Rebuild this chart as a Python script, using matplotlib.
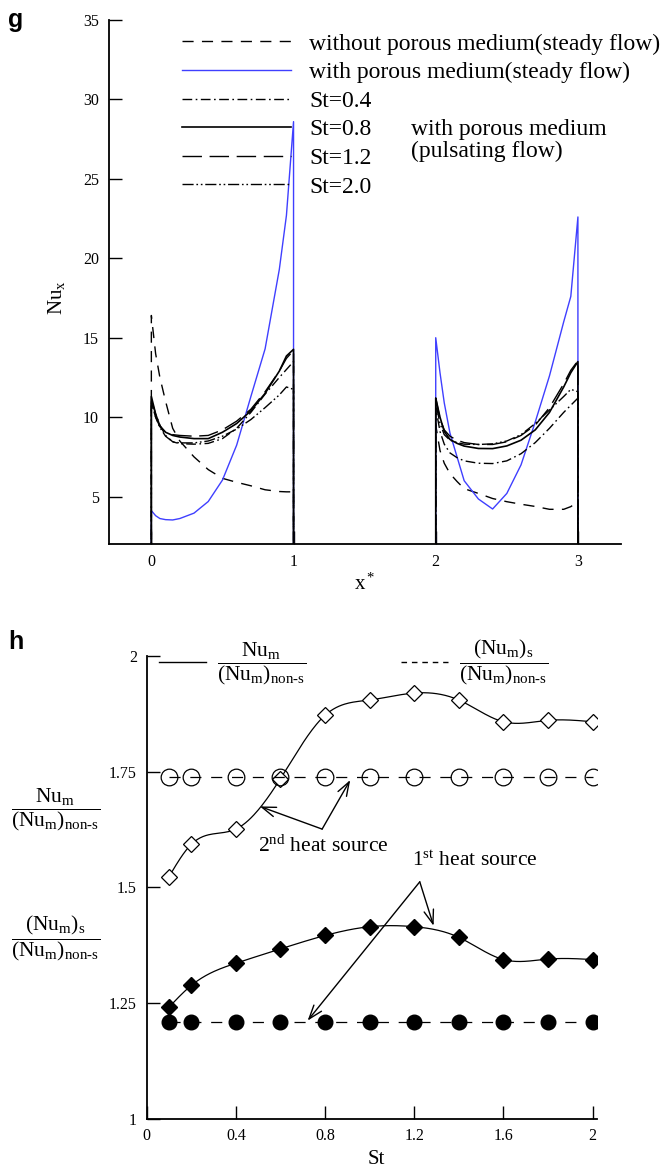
import numpy as np
import matplotlib
matplotlib.use("Agg")
import matplotlib.pyplot as plt
from matplotlib.lines import Line2D

plt.rcParams['font.family'] = ['Liberation Serif', 'DejaVu Serif']
plt.rcParams['mathtext.fontset'] = 'custom'
plt.rcParams['mathtext.rm'] = 'Liberation Serif'
plt.rcParams['mathtext.it'] = 'Liberation Serif:italic'
plt.rcParams['lines.scale_dashes'] = False

# ---- panel g: local Nusselt number on the two heat sources ----
x_src = [0, 0.03, 0.06, 0.1, 0.15, 0.2, 0.3, 0.4, 0.5, 0.6, 0.7, 0.8, 0.9, 0.95, 1.0]

plain_src1 = [16.4, 14.0, 12.5, 11.0, 9.3, 8.5, 7.5, 6.7, 6.15, 5.9, 5.68, 5.43, 5.32, 5.3, 5.3]
plain_src2 = [9.5, 7.9, 7.1, 6.45, 5.95, 5.5, 5.2, 4.88, 4.68, 4.52, 4.38, 4.2, 4.2, 4.37, 4.68]
porous_src1 = [4.12, 3.8, 3.62, 3.55, 3.53, 3.62, 3.96, 4.69, 6.04, 8.24, 11.3, 14.3, 19.3, 22.7, 28.6]
porous_src2 = [15.0, 12.8, 10.9, 9.0, 7.5, 6.0, 4.85, 4.22, 5.2, 7.0, 9.7, 12.6, 16.0, 17.6, 22.6]
st04_src1 = [11.1, 10.2, 9.5, 8.85, 8.45, 8.33, 8.3, 8.35, 8.65, 9.3, 10.3, 11.45, 12.5, 13.0, 13.5]
st04_src2 = [10.6, 9.1, 8.3, 7.75, 7.45, 7.25, 7.1, 7.08, 7.25, 7.7, 8.4, 9.3, 10.3, 10.75, 11.2]
st08_src1 = [11.3, 10.2, 9.45, 9.05, 8.85, 8.75, 8.65, 8.65, 9.05, 9.6, 10.4, 11.5, 12.9, 13.85, 14.27]
st08_src2 = [11.2, 10.0, 9.1, 8.6, 8.35, 8.18, 8.03, 8.02, 8.19, 8.55, 9.2, 10.3, 11.9, 12.8, 13.5]
st12_src1 = [11.0, 10.0, 9.4, 9.05, 8.9, 8.85, 8.8, 8.85, 9.2, 9.75, 10.5, 11.6, 12.9, 13.7, 14.2]
st12_src2 = [11.2, 9.9, 9.2, 8.8, 8.55, 8.4, 8.28, 8.28, 8.45, 8.85, 9.5, 10.6, 12.1, 12.95, 13.55]
st20_src1 = [10.9, 10.0, 9.35, 8.8, 8.45, 8.38, 8.38, 8.5, 8.8, 9.25, 9.85, 10.6, 11.4, 11.9, 11.75]
st20_src2 = [10.9, 9.6, 8.9, 8.55, 8.4, 8.3, 8.28, 8.32, 8.5, 8.9, 9.6, 10.45, 11.3, 11.75, 11.6]

labels_g = ['without porous medium(steady flow)', 'with porous medium(steady flow)',
            'St=0.4', 'St=0.8', 'St=1.2', 'St=2.0']

# ---- panel h: mean Nusselt number ratios versus Strouhal number ----
st = [0.1, 0.2, 0.4, 0.6, 0.8, 1.0, 1.2, 1.4, 1.6, 1.8, 2.0]
second_pulsating = [1.523, 1.593, 1.626, 1.735, 1.872, 1.905, 1.92, 1.905, 1.858, 1.861, 1.858]
second_steady = [1.739, 1.739, 1.739, 1.739, 1.739, 1.739, 1.739, 1.739, 1.739, 1.739, 1.739]
first_pulsating = [1.241, 1.288, 1.336, 1.367, 1.396, 1.415, 1.415, 1.392, 1.344, 1.345, 1.344]
first_steady = [1.209, 1.209, 1.209, 1.209, 1.209, 1.209, 1.209, 1.209, 1.209, 1.209, 1.209]


def trace(y1, y2):
    # source 1 on x*=0..1, source 2 on x*=2..3, Nu_x = 0 on the walls between
    xs = np.asarray(x_src)
    x = np.concatenate([[xs[0]], xs, [xs[-1]], [xs[0] + 2], xs + 2, [xs[-1] + 2]])
    y = np.concatenate([[0], y1, [0], [0], y2, [0]])
    return x, y


def smooth(x, y, n=300):
    # natural cubic spline through the points
    x = np.asarray(x, float)
    y = np.asarray(y, float)
    k = len(x)
    h = np.diff(x)
    A = np.zeros((k, k))
    r = np.zeros(k)
    A[0, 0] = A[-1, -1] = 1
    for i in range(1, k - 1):
        A[i, i - 1] = h[i - 1]
        A[i, i] = 2 * (h[i - 1] + h[i])
        A[i, i + 1] = h[i]
        r[i] = 3 * ((y[i + 1] - y[i]) / h[i] - (y[i] - y[i - 1]) / h[i - 1])
    c = np.linalg.solve(A, r)
    b = (y[1:] - y[:-1]) / h - h * (2 * c[:-1] + c[1:]) / 3
    d = (c[1:] - c[:-1]) / (3 * h)
    xf = np.linspace(x[0], x[-1], n)
    i = np.clip(np.searchsorted(x, xf) - 1, 0, k - 2)
    t = xf - x[i]
    return xf, y[i] + b[i] * t + c[i] * t ** 2 + d[i] * t ** 3


def style_axes(ax):
    for side in ['top', 'right']:
        ax.spines[side].set_visible(False)
    for side in ['left', 'bottom']:
        ax.spines[side].set_linewidth(1.3)
    ax.tick_params(direction='in', length=9.5, width=1.0, labelsize=11.5, pad=7)


fig = plt.figure(figsize=(6.64, 11.73), dpi=100)

# panel g
ax1 = fig.add_axes([0.1637, 0.5360, 0.7709, 0.4470])
style_axes(ax1)
blue = '#3f3fff'
l_plain, = ax1.plot(*trace(plain_src1, plain_src2), color='k', lw=1.0, ls=(0, (8, 6)))
l_porous, = ax1.plot(*trace(porous_src1, porous_src2), color=blue, lw=1.0)
l04, = ax1.plot(*trace(st04_src1, st04_src2), color='k', lw=1.0, ls=(0, (7, 2.5, 1.2, 2.5)))
l08, = ax1.plot(*trace(st08_src1, st08_src2), color='k', lw=1.2)
l12, = ax1.plot(*trace(st12_src1, st12_src2), color='k', lw=1.0, ls=(0, (14, 5.5)))
l20, = ax1.plot(*trace(st20_src1, st20_src2), color='k', lw=1.0,
                ls=(0, (8, 2, 1.2, 2, 1.2, 2)))
ax1.set_xlim(-0.3, 3.3)
ax1.set_ylim(2, 35)
ax1.set_xticks([0, 1, 2, 3])
ax1.set_yticks([5, 10, 15, 20, 25, 30, 35])
ax1.set_xlabel('x$^*$', fontsize=15)
ax1.set_ylabel('Nu$_\\mathrm{x}$', fontsize=15)
ax1.xaxis.set_label_coords(0.5, -0.055)
ax1.yaxis.set_label_coords(-0.081, 0.47)
ax1.legend([l_plain, l_porous, l04, l08, l12, l20], labels_g, loc='upper left',
           bbox_to_anchor=(0.143, 0.975), frameon=False, fontsize=17,
           handlelength=4.6, handletextpad=0.8, labelspacing=0.3,
           borderpad=0, borderaxespad=0)
ax1.text(0.5906, 0.771, 'with porous medium\n(pulsating flow)', transform=ax1.transAxes,
         fontsize=17, ha='left', va='center', linespacing=1.05)
fig.text(0.012, 0.983, 'g', fontsize=18, fontweight='bold', family='Liberation Sans',
         ha='left', va='center')

# panel h
ax2 = fig.add_axes([0.2209, 0.04629, 0.6782, 0.3944])
style_axes(ax2)
ax2.plot(*smooth(st, second_pulsating), color='k', lw=0.9)
ax2.plot(st, second_pulsating, ls='none', marker='D', ms=8.5, mfc='white', mec='k', mew=0.9)
ax2.plot(st, second_steady, color='k', lw=0.9, ls=(0, (8, 7)), marker='o', ms=12,
         mfc='none', mec='k', mew=0.9)
ax2.plot(*smooth(st, first_pulsating), color='k', lw=0.9)
ax2.plot(st, first_pulsating, ls='none', marker='D', ms=8, mfc='k', mec='k')
ax2.plot(st, first_steady, color='k', lw=0.9, ls=(0, (8, 7)), marker='o', ms=10.5,
         mfc='k', mec='k')
ax2.set_xlim(0, 2.02)
ax2.set_ylim(1, 2)
ax2.set_xticks([0, 0.4, 0.8, 1.2, 1.6, 2])
ax2.set_xticklabels(['0', '0.4', '0.8', '1.2', '1.6', '2'])
ax2.set_yticks([1, 1.25, 1.5, 1.75, 2])
ax2.set_yticklabels(['1', '1.25', '1.5', '1.75', '2'])
ax2.set_xlabel('St', fontsize=15)
ax2.xaxis.set_label_coords(0.51, -0.068)

hyph = '\u2010'
frac_puls = (r'$\dfrac{\mathrm{Nu}_\mathrm{m}}{(\mathrm{Nu}_\mathrm{m})_\mathrm{non'
             + hyph + r's}}$')
frac_stdy = (r'$\dfrac{(\mathrm{Nu}_\mathrm{m})_\mathrm{s}}{(\mathrm{Nu}_\mathrm{m})_\mathrm{non'
             + hyph + r's}}$')
h_puls = Line2D([], [], color='k', lw=1.0)
h_stdy = Line2D([], [], color='k', lw=1.0, ls=(0, (4, 3.5)))
ax2.legend([h_puls, h_stdy], [frac_puls, frac_stdy], ncol=2, loc='upper left',
           bbox_to_anchor=(0.027, 1.04), frameon=False, fontsize=15.5,
           handlelength=2.2, handletextpad=0.5, columnspacing=4.4,
           borderpad=0, borderaxespad=0)
fig.text(0.084, 1 - 810 / 1173, frac_puls, fontsize=15.5, ha='center', va='center')
fig.text(0.084, 1 - 938 / 1173, frac_stdy, fontsize=15.5, ha='center', va='center')

arrow = dict(arrowstyle='->,head_length=1.0,head_width=0.35', lw=1.0, color='k',
             shrinkA=0, shrinkB=0)
ax2.annotate('', xy=(0.508, 1.675), xytext=(0.787, 1.626), arrowprops=arrow)
ax2.annotate('', xy=(0.913, 1.732), xytext=(0.787, 1.626), arrowprops=arrow)
ax2.text(0.498, 1.589, '2$^\\mathrm{nd}$ heat source', fontsize=15.5, ha='left', va='center')
ax2.annotate('', xy=(1.287, 1.417), xytext=(1.225, 1.512), arrowprops=arrow)
ax2.annotate('', xy=(0.722, 1.212), xytext=(1.225, 1.512), arrowprops=arrow)
ax2.text(1.192, 1.556, '1$^\\mathrm{st}$ heat source', fontsize=15.5, ha='left', va='center')
fig.text(0.012, 1 - 642 / 1173, 'h', fontsize=18, fontweight='bold', family='Liberation Sans',
         ha='left', va='center')

fig.savefig('out.png', dpi=100)
